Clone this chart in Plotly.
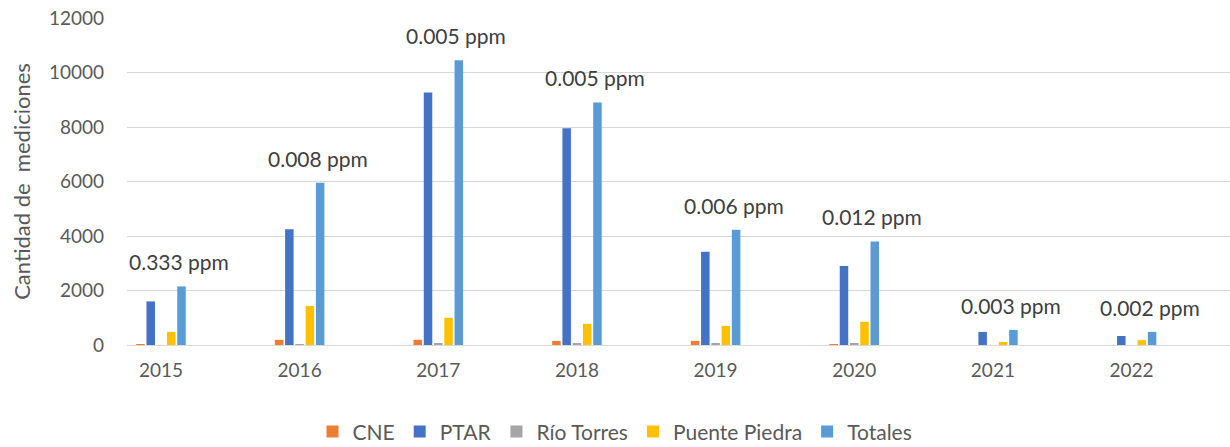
import plotly.graph_objects as go

years = ["2015", "2016", "2017", "2018", "2019", "2020", "2021", "2022"]
cne = [20, 190, 190, 150, 150, 10, 0, 0]
ptar = [1600, 4250, 9270, 7950, 3420, 2900, 480, 330]
rio_torres = [0, 20, 60, 60, 60, 60, 0, 0]
puente_piedra = [480, 1430, 1000, 780, 700, 850, 110, 180]
totales = [2150, 5950, 10450, 8900, 4230, 3800, 550, 480]
ppm_labels = ["0.333 ppm", "0.008 ppm", "0.005 ppm", "0.005 ppm",
              "0.006 ppm", "0.012 ppm", "0.003 ppm", "0.002 ppm"]

series = [
    ("CNE", cne, "#ED7D31"),
    ("PTAR", ptar, "#4472C4"),
    ("Río Torres", rio_torres, "#A5A5A5"),
    ("Puente Piedra", puente_piedra, "#FFC000"),
    ("Totales", totales, "#5B9BD5"),
]

FONT = "Lato"
GREY = "#595959"

fig = go.Figure()
for name, vals, col in series:
    fig.add_trace(go.Bar(x=years, y=vals, name=name, marker=dict(color=col, line=dict(width=0))))

for i, (tot, lab) in enumerate(zip(totales, ppm_labels)):
    fig.add_annotation(x=i, y=tot, xref="x", yref="y", text=lab, showarrow=False,
                       xanchor="center", yanchor="bottom", xshift=18, yshift=10,
                       font=dict(family=FONT, size=21, color="#404040"))

fig.update_layout(
    width=1230, height=447,
    margin=dict(l=127, r=0, t=18, b=102, autoexpand=False),
    paper_bgcolor="white", plot_bgcolor="white",
    barmode="group", bargap=0.63, bargroupgap=0.17,
    font=dict(family=FONT, size=19, color=GREY),
    legend=dict(orientation="h", xref="container", x=0.5, xanchor="center",
                yref="container", y=0.034, yanchor="middle",
                font=dict(family=FONT, size=21, color=GREY),
                traceorder="normal", itemclick=False),
    showlegend=True,
)
fig.update_xaxes(type="category", range=[-0.245, 7.71], showgrid=False,
                 showline=False, ticks="", ticklabelstandoff=12,
                 tickfont=dict(family=FONT, size=19, color=GREY))
fig.update_yaxes(range=[0, 12000], dtick=2000, tickformat="d", showgrid=True,
                 gridcolor="#D9D9D9", gridwidth=1, zeroline=True,
                 zerolinecolor="#D9D9D9", zerolinewidth=1,
                 showline=False, ticks="", ticklabelstandoff=22,
                 tickfont=dict(family=FONT, size=19, color=GREY),
                 title=dict(text="Cantidad de  mediciones", standoff=12,
                            font=dict(family=FONT, size=22, color=GREY)))

fig.write_html("out.html", config={"displayModeBar": False},
               post_script="document.body.style.margin='0';")
